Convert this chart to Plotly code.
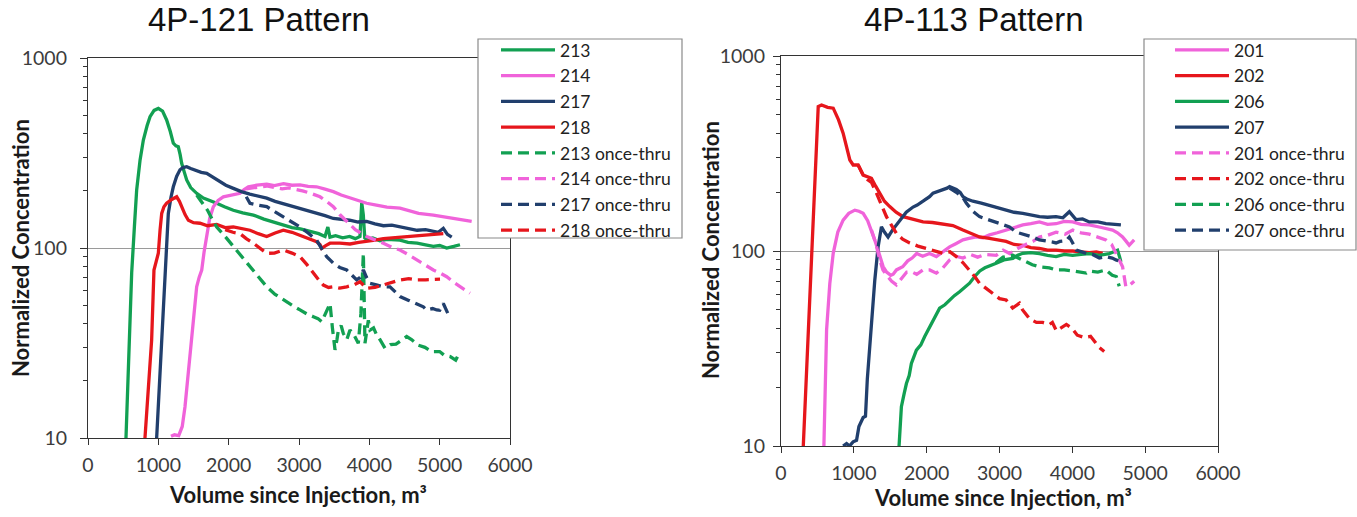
import plotly.graph_objects as go

# ---------------- 4P-121 pattern (left panel) ----------------
w213_x = [540, 580, 621, 660, 692, 740, 787, 840, 882, 940, 1000, 1060, 1118, 1170, 1213, 1250, 1284, 1310,
          1332, 1370, 1403, 1460, 1545, 1640, 1730, 1830, 1940, 2066, 2200, 2351, 2500, 2640, 2777, 2900, 3020,
          3156, 3280, 3370, 3410, 3440, 3520, 3620, 3720, 3800, 3867, 3892, 3914, 3935, 3960, 4050, 4150, 4250,
          4350, 4436, 4550, 4680, 4800, 4910, 5000, 5100, 5200, 5289]
w213_y = [10, 30, 74, 130, 202, 290, 370, 440, 491, 530, 543, 525, 472, 410, 356, 345, 341, 310,
          279, 250, 228, 208, 194, 183, 178, 172, 165, 158, 153, 149, 142, 137, 132, 128, 126,
          122, 119, 115, 129, 114, 116, 113, 115, 112, 115, 173, 150, 113, 111, 113, 109, 111,
          110, 110, 107, 106, 104, 102, 103, 100, 102, 104]

w214_x = [1180, 1230, 1290, 1340, 1379, 1420, 1474, 1510, 1545, 1580, 1617, 1650, 1688, 1730, 1782, 1850,
          1924, 2040, 2161, 2220, 2280, 2400, 2541, 2650, 2780, 2900, 3014, 3130, 3250, 3370, 3488, 3600,
          3725, 3850, 3962, 4100, 4250, 4436, 4560, 4700, 4910, 5050, 5200, 5330, 5455]
w214_y = [10.2, 10.4, 10.3, 11.5, 14.6, 21, 32.8, 48, 62.5, 70, 76.6, 95, 119, 143, 165, 178,
          186, 190, 194, 203, 210, 214, 217, 213, 218, 214, 215, 211, 210, 204, 198, 190,
          183, 177, 172, 168, 164, 162, 157, 152, 149, 146, 143, 140, 138]

w217_x = [976, 1010, 1048, 1070, 1095, 1120, 1142, 1180, 1213, 1260, 1308, 1350, 1403, 1460, 1540, 1610,
          1688, 1780, 1870, 1960, 2066, 2180, 2300, 2420, 2541, 2660, 2780, 2900, 3014, 3130, 3250, 3370,
          3488, 3600, 3720, 3840, 3962, 4080, 4200, 4320, 4436, 4560, 4680, 4800, 4910, 4980, 5052, 5110, 5171]
w217_y = [10, 18, 32.8, 50, 73.8, 110, 152, 185, 210, 238, 258, 265, 268, 262, 255, 250,
          247, 236, 225, 214, 206, 198, 192, 188, 183, 176, 171, 167, 162, 157, 152, 148,
          143, 142, 140, 137, 138, 134, 131, 132, 129, 126, 124, 125, 122, 121, 127, 118, 114]

w218_x = [810, 860, 905, 925, 938, 970, 1000, 1025, 1048, 1080, 1118, 1190, 1261, 1300, 1332, 1380, 1427,
          1500, 1592, 1700, 1830, 1950, 2066, 2180, 2303, 2420, 2541, 2660, 2777, 2900, 3014, 3130, 3251,
          3300, 3322, 3380, 3441, 3580, 3725, 3850, 3962, 4080, 4199, 4320, 4440, 4560, 4673, 4800, 4920, 5052]
w218_y = [10, 18, 32.8, 55, 76.6, 85, 93.8, 125, 152, 165, 172, 180, 186, 176, 165, 150, 140,
          136, 135, 131, 133, 128, 129, 126, 124, 119, 115, 120, 124, 121, 117, 113, 108,
          104, 99.6, 103, 106, 106, 105, 107, 108, 110, 112, 113, 115, 116, 117, 118, 118, 119]

w213o_x = [1545, 1620, 1700, 1760, 1830, 1950, 2066, 2180, 2303, 2420, 2541, 2660, 2777, 2900, 3014, 3110,
           3204, 3270, 3323, 3390, 3441, 3475, 3512, 3540, 3560, 3600, 3630, 3680, 3725, 3780, 3843, 3880,
           3915, 3938, 3986, 4010, 4060, 4105, 4150, 4223, 4300, 4379, 4450, 4531, 4600, 4697, 4790, 4887,
           5000, 5062, 5150, 5228, 5265]
w213o_y = [190, 175, 158, 143, 129, 115, 102, 90, 79.7, 70, 62.5, 57, 53.2, 50, 47.2, 45,
           43.5, 42.5, 40.9, 46, 51, 38, 29.1, 33, 37, 39, 35.5, 33, 37, 35, 31.5, 45,
           93.8, 31.5, 41.7, 37, 38, 34.8, 33, 29.7, 31, 31.2, 32.5, 34.2, 33, 30.8, 30, 28.5,
           28.5, 27.3, 26.8, 25.7, 27.3]

w214o_x = [2250, 2350, 2450, 2541, 2650, 2760, 2860, 2950, 3050, 3150, 3250, 3299, 3400, 3488, 3580, 3678,
           3800, 3962, 4080, 4199, 4320, 4436, 4560, 4673, 4800, 4910, 5000, 5100, 5200, 5300, 5431]
w214o_y = [205, 207, 210, 212, 208, 205, 207, 204, 200, 195, 190, 186, 175, 165, 150, 138,
           125, 115, 111, 106, 101, 97.6, 92, 86.5, 81, 76.6, 74, 70.6, 66, 62, 57.8]

w217o_x = [2250, 2303, 2420, 2541, 2660, 2777, 2900, 3014, 3130, 3251, 3330, 3394, 3488, 3580, 3678, 3750,
           3820, 3870, 3915, 3960, 4010, 4100, 4199, 4294, 4436, 4560, 4673, 4768, 4815, 4900, 4958, 5000,
           5052, 5100, 5147]
w217o_y = [186, 172, 168, 165, 155, 146, 138, 129, 120, 110, 98, 90, 83.2, 79, 76.6, 72,
           67.9, 70, 76.6, 70, 65.2, 64, 62.5, 62.5, 55.5, 53, 51, 49, 47.2, 48, 47.2, 47,
           51, 47, 42.7]

w218o_x = [1950, 2060, 2161, 2250, 2351, 2450, 2541, 2650, 2777, 2900, 3014, 3110, 3204, 3280, 3346, 3420,
           3488, 3580, 3678, 3780, 3867, 3920, 3962, 4080, 4199, 4320, 4436, 4560, 4673, 4800, 4900, 5005]
w218o_y = [125, 121, 119, 112, 106, 99, 93.8, 94, 97.6, 94, 90, 82, 73.7, 68, 63.8, 62,
           62.5, 61.5, 62.5, 64, 66.5, 64, 61.3, 62, 63.8, 66, 67.9, 69, 67.9, 68, 68.5, 68.5]

# ---------------- 4P-113 pattern (right panel) ----------------
w201_x = [589, 610, 626, 670, 717, 780, 853, 930, 1014, 1070, 1128, 1190, 1242, 1290, 1333, 1370, 1402,
          1450, 1507, 1540, 1585, 1671, 1740, 1800, 1863, 1945, 2040, 2133, 2220, 2315, 2400, 2498, 2580,
          2680, 2770, 2863, 2970, 3091, 3200, 3320, 3430, 3548, 3660, 3776, 3890, 4005, 4120, 4233, 4400,
          4553, 4620, 4690, 4740, 4781, 4849]
w201_y = [10, 20, 39.4, 68, 97.3, 125, 144, 156, 162, 160, 156, 143, 128, 113, 101, 90, 83.2,
          78, 75, 76, 80, 83, 89, 92, 97, 94, 97, 93.6, 99, 105, 109, 114, 116,
          118, 117, 121, 124, 128, 132, 136, 138, 141, 137, 138, 142, 141, 137, 136, 132,
          128, 124, 118, 112, 107, 114]

w202_x = [306, 370, 430, 480, 511, 557, 640, 717, 790, 853, 900, 945, 991, 1059, 1128, 1190, 1242, 1300,
          1356, 1420, 1493, 1580, 1676, 1800, 1950, 2080, 2224, 2360, 2498, 2610, 2726, 2860, 2980, 3091,
          3200, 3320, 3430, 3548, 3660, 3776, 3890, 4005, 4120, 4233, 4330, 4416]
w202_y = [10, 35, 115, 300, 550, 561, 545, 540, 470, 402, 340, 293, 276, 276, 245, 240, 236, 215,
          198, 180, 169, 158, 150, 146, 141, 140, 138, 135, 128, 123, 118, 116, 114, 112,
          108, 107, 104, 103, 101, 101, 100, 100, 99, 98, 99, 97.3]

w206_x = [1621, 1640, 1653, 1690, 1722, 1760, 1790, 1859, 1920, 1973, 2064, 2120, 2178, 2250, 2315, 2380,
          2452, 2520, 2589, 2660, 2730, 2800, 2880, 2955, 3060, 3183, 3250, 3320, 3430, 3548, 3660, 3776,
          3890, 4005, 4120, 4233, 4370, 4507, 4570, 4621, 4650, 4667]
w206_y = [10, 12.5, 15.9, 18.5, 20.9, 23, 26.5, 31, 33, 36.4, 42.6, 46, 50.9, 53, 56.1, 59,
          61.8, 65, 68.4, 74, 79, 82, 84, 86.6, 90, 91.6, 95, 97.3, 98, 97, 95, 93.6,
          96, 95, 96, 97, 95, 97, 99, 101, 93, 88]

w207_x = [853, 900, 940, 990, 1037, 1070, 1128, 1160, 1185, 1210, 1242, 1288, 1333, 1379, 1420, 1470,
          1530, 1630, 1720, 1813, 1870, 1950, 2040, 2087, 2160, 2230, 2280, 2315, 2360, 2407, 2460, 2498,
          2560, 2635, 2750, 2863, 2970, 3092, 3200, 3320, 3430, 3548, 3660, 3776, 3870, 3959, 4050, 4140,
          4233, 4350, 4461, 4560, 4667]
w207_y = [10, 10.3, 10, 10.5, 10.7, 12.6, 14, 14.2, 22, 30, 44, 71, 105, 133, 125, 118,
          128, 144, 158, 168, 172, 180, 190, 198, 202, 206, 210, 214, 210, 207, 200, 190,
          184, 180, 176, 172, 167, 162, 158, 156, 153, 150, 149, 150, 148, 159, 145, 146,
          141, 141, 138, 137, 136]

w201o_x = [1242, 1300, 1356, 1400, 1452, 1520, 1585, 1650, 1726, 1800, 1863, 1950, 2041, 2133, 2224, 2315,
           2400, 2498, 2600, 2700, 2800, 2955, 3050, 3140, 3250, 3360, 3460, 3548, 3650, 3776, 3900, 4005,
           4120, 4233, 4350, 4461, 4540, 4598, 4650, 4690, 4735, 4790, 4849]
w201o_y = [128, 110, 90, 80, 75, 70, 67, 72, 78, 78, 76, 80, 80, 77, 82, 90,
           94, 92, 96, 93, 96, 95, 101, 97, 103, 108, 112, 118, 120, 125, 122, 128,
           124, 122, 118, 114, 108, 97, 90, 83, 65.6, 67, 70]

w202o_x = [1059, 1128, 1190, 1242, 1311, 1380, 1448, 1520, 1585, 1670, 1767, 1880, 1996, 2110, 2224, 2320,
           2407, 2500, 2589, 2660, 2726, 2800, 2863, 3000, 3091, 3180, 3274, 3315, 3411, 3507, 3594, 3685,
           3726, 3781, 3918, 4000, 4068, 4164, 4250, 4315, 4370, 4438]
w202o_y = [276, 245, 232, 225, 198, 172, 150, 135, 123, 115, 110, 106, 103, 100, 97.3, 99,
           93.6, 87, 80, 74, 68.3, 65, 62, 57, 56.1, 51, 54, 50, 45, 43, 43, 42,
           43, 39, 42, 40, 37, 36, 36.5, 34, 32, 30.5]

w206o_x = [2950, 3050, 3183, 3260, 3350, 3450, 3548, 3685, 3776, 3890, 4005, 4120, 4191, 4233, 4350, 4461,
           4548, 4603, 4630, 4644]
w206o_y = [87, 93, 95, 92, 88, 85, 83, 82, 80, 80, 79, 78, 77, 79, 78, 80,
           75, 74, 69, 66]

w207o_x = [2315, 2407, 2498, 2544, 2635, 2726, 2863, 2955, 3060, 3137, 3228, 3300, 3365, 3452, 3548, 3640,
           3731, 3776, 3830, 3913, 3959, 4005, 4055, 4130, 4200, 4279, 4370, 4461, 4548, 4600, 4671]
w207o_y = [210, 200, 188, 176, 160, 150, 144, 140, 135, 133, 125, 123, 121, 118, 114, 113,
           111, 110, 112, 113, 118, 110, 101, 99, 97, 96, 92, 93.6, 92, 90, 88]

# ---------------- styling ----------------
GREEN = "#12A052"
PINK = "#F063DA"
NAVY = "#213F6D"
RED = "#E6161C"
DASH = "11px,6px"
LW = 3.3

left_series = [
    ("213", w213_x, w213_y, GREEN, "solid"),
    ("214", w214_x, w214_y, PINK, "solid"),
    ("217", w217_x, w217_y, NAVY, "solid"),
    ("218", w218_x, w218_y, RED, "solid"),
    ("213 once-thru", w213o_x, w213o_y, GREEN, DASH),
    ("214 once-thru", w214o_x, w214o_y, PINK, DASH),
    ("217 once-thru", w217o_x, w217o_y, NAVY, DASH),
    ("218 once-thru", w218o_x, w218o_y, RED, DASH),
]
right_series = [
    ("201", w201_x, w201_y, PINK, "solid"),
    ("202", w202_x, w202_y, RED, "solid"),
    ("206", w206_x, w206_y, GREEN, "solid"),
    ("207", w207_x, w207_y, NAVY, "solid"),
    ("201 once-thru", w201o_x, w201o_y, PINK, DASH),
    ("202 once-thru", w202o_x, w202o_y, RED, DASH),
    ("206 once-thru", w206o_x, w206o_y, GREEN, DASH),
    ("207 once-thru", w207o_x, w207o_y, NAVY, DASH),
]

fig = go.Figure()
for name, xs, ys, col, dash in left_series:
    fig.add_trace(go.Scatter(x=xs, y=ys, name=name, mode="lines", xaxis="x", yaxis="y",
                             legend="legend", line=dict(color=col, width=LW, dash=dash)))
for name, xs, ys, col, dash in right_series:
    fig.add_trace(go.Scatter(x=xs, y=ys, name=name, mode="lines", xaxis="x2", yaxis="y2",
                             legend="legend2", line=dict(color=col, width=LW, dash=dash)))

W, H = 1357, 517
TICKFONT = dict(family="Lato", size=19.5, color="#3c3c3c")
AXCOL = "#333333"
MINOR_Y = [20, 30, 40, 50, 60, 70, 80, 90, 200, 300, 400, 500, 600, 700, 800, 900]


def xaxis_cfg(x0, x1):
    return dict(domain=[x0 / W, x1 / W], range=[0, 6000], tickvals=[0, 1000, 2000, 3000, 4000, 5000, 6000],
                showgrid=False, zeroline=False, showline=True, linecolor=AXCOL, linewidth=1.2, mirror=True,
                ticks="outside", ticklen=6, tickcolor=AXCOL, tickfont=TICKFONT, automargin=False,
                ticklabelstandoff=3)


def yaxis_cfg(top, bottom, anchor, standoff):
    return dict(domain=[(H - bottom) / H, (H - top) / H], type="log", range=[1, 3], tickvals=[10, 100, 1000],
                ticktext=["10", "100", "1000"], showgrid=True, gridcolor="#9a9a9a", gridwidth=1,
                zeroline=False, showline=True, linecolor=AXCOL, linewidth=1.2, mirror=True,
                ticks="outside", ticklen=7, tickcolor=AXCOL, tickfont=TICKFONT, anchor=anchor, automargin=False,
                ticklabelstandoff=standoff,
                minor=dict(tickvals=MINOR_Y, ticks="outside", ticklen=4, tickcolor=AXCOL, showgrid=False))


legend_common = dict(bgcolor="rgba(0,0,0,0)", borderwidth=0, font=dict(family="Lato", size=17.5, color="#222"),
                     xanchor="right", yanchor="top", tracegroupgap=0, itemclick=False, itemwidth=54)

fig.update_layout(
    template="none",
    width=W, height=H, margin=dict(l=0, r=0, t=0, b=0, pad=0, autoexpand=False),
    paper_bgcolor="white", plot_bgcolor="white",
    xaxis=xaxis_cfg(88, 510), yaxis=yaxis_cfg(58, 438, "x", 9),
    xaxis2=xaxis_cfg(781, 1218) | dict(anchor="y2"), yaxis2=yaxis_cfg(56, 446, "x2", 4),
    legend=legend_common | dict(x=676 / W, y=(H - 32) / H),
    legend2=legend_common | dict(x=1350 / W, y=(H - 32) / H),
    showlegend=True,
)

# legend frames
for x0, y0, x1, y1 in [(478, 39, 682, 238), (1144, 39, 1356, 250)]:
    fig.add_shape(type="rect", xref="paper", yref="paper", x0=x0 / W, x1=x1 / W, y0=(H - y1) / H,
                  y1=(H - y0) / H, line=dict(color="#8a8a8a", width=1.2), fillcolor="white", layer="above")

# panel titles and axis titles
TITLE = dict(family="Liberation Sans, Arial", size=33, color="#111")
AXT = dict(family="Lato", size=22, color="#1a1a1a")
ann = [
    dict(text="4P-121 Pattern", x=259, y=20, font=TITLE),
    dict(text="4P-113 Pattern", x=974, y=20, font=TITLE),
    dict(text="<b>Volume since Injection, m³</b>", x=298, y=494, font=AXT),
    dict(text="<b>Volume since Injection, m³</b>", x=1003, y=497, font=AXT),
    dict(text="<b>Normalized Concentration</b>", x=20, y=248, font=AXT, textangle=-90),
    dict(text="<b>Normalized Concentration</b>", x=710, y=250, font=AXT, textangle=-90),
]
for a in ann:
    fig.add_annotation(xref="paper", yref="paper", x=a.pop("x") / W, y=(H - a.pop("y")) / H,
                       xanchor="center", yanchor="middle", showarrow=False, **a)

fig.write_html("out.html")
